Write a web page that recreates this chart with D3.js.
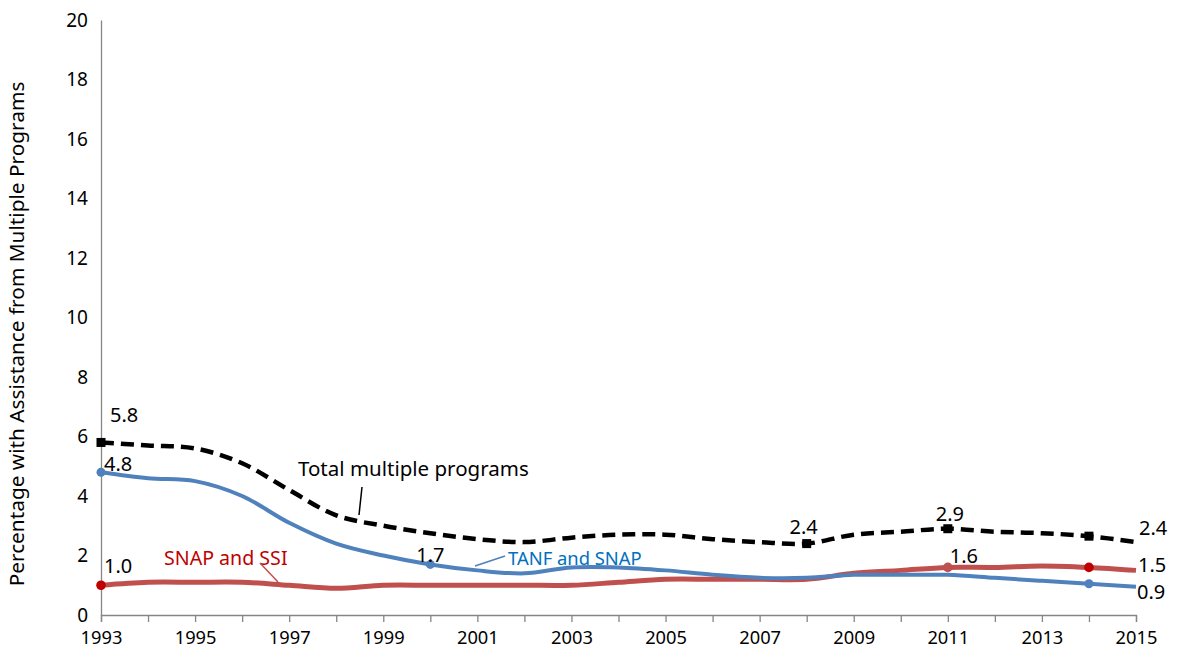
<!DOCTYPE html>
<html>
<head>
<meta charset="utf-8">
<script src="https://cdn.jsdelivr.net/npm/d3@7"></script>
<style>
  body { margin: 0; background: #fff; }
  svg { display: block; font-family: "Noto Sans", "Open Sans", sans-serif; }
</style>
</head>
<body>
<svg id="chart" width="1177" height="652"></svg>
<script>
const years = d3.range(1993, 2016);
const totalMultiple = [5.8,5.7,5.6,5.1,4.2,3.35,3.0,2.75,2.55,2.45,2.6,2.7,2.7,2.55,2.45,2.4,2.7,2.8,2.9,2.8,2.75,2.65,2.45];
const tanfSnap = [4.8,4.6,4.5,4.0,3.1,2.4,2.0,1.7,1.5,1.4,1.6,1.6,1.5,1.35,1.25,1.25,1.35,1.35,1.35,1.25,1.15,1.05,0.95];
const snapSsi = [1.0,1.1,1.1,1.1,1.0,0.9,1.0,1.0,1.0,1.0,1.0,1.1,1.2,1.2,1.2,1.2,1.4,1.5,1.6,1.6,1.65,1.6,1.5];
const yTicks = [0,2,4,6,8,10,12,14,16,18,20];
const xTickLabels = [1993,1995,1997,1999,2001,2003,2005,2007,2009,2011,2013,2015];
const yAxisTitle = "Percentage with Assistance from Multiple Programs";
const seriesNames = ["Total multiple programs", "TANF and SNAP", "SNAP and SSI"];
// labelled points: [year, text]
const totalLabels = [[1993,"5.8"],[2008,"2.4"],[2011,"2.9"],[2015,"2.4"]];
const tanfLabels = [[1993,"4.8"],[2000,"1.7"],[2015,"0.9"]];
const ssiLabels = [[1993,"1.0"],[2011,"1.6"],[2015,"1.5"]];
const totalMarkers = [1993,2008,2011,2014];
const tanfMarkers = [1993,2000,2014];
const ssiMarkers = [1993,2011,2014];

const svg = d3.select("#chart");
const x = d3.scaleLinear().domain([1993, 2015]).range([101, 1136]);
const y = d3.scaleLinear().domain([0, 20]).range([615, 20]);

// axes
const xAxis = d3.axisBottom(x).tickValues(years).tickSize(7).tickFormat(d => xTickLabels.includes(d) ? d : "");
const gx = svg.append("g").attr("transform", `translate(0,${y(0)})`).call(xAxis);
gx.select(".domain").attr("stroke", "#868686").attr("stroke-width", 1.3);
gx.selectAll(".tick line").attr("stroke", "#868686").attr("stroke-width", 1.3);
gx.selectAll(".tick text").attr("fill", "#000").attr("font-size", 18.3).attr("dy", "1.05em").attr("font-family", "Noto Sans");

const yAxis = d3.axisLeft(y).tickValues(yTicks).tickSize(0).tickPadding(13);
const gy = svg.append("g").attr("transform", `translate(${x(1993)},0)`).call(yAxis);
gy.select(".domain").attr("stroke", "#868686").attr("stroke-width", 1.3);
gy.selectAll(".tick text").attr("fill", "#000").attr("font-size", 19).attr("font-family", "Noto Sans");

svg.append("text")
  .attr("transform", `translate(24,334) rotate(-90)`)
  .attr("text-anchor", "middle")
  .attr("font-size", 20.8)
  .text(yAxisTitle);

const line = d3.line().x((d,i) => x(years[i])).y(d => y(d)).curve(d3.curveCatmullRom.alpha(0.5));

svg.append("path").datum(snapSsi).attr("d", line).attr("fill","none")
  .attr("stroke","#C0504D").attr("stroke-width",5);
svg.append("path").datum(tanfSnap).attr("d", line).attr("fill","none")
  .attr("stroke","#4F81BD").attr("stroke-width",4);
svg.append("path").datum(totalMultiple).attr("d", line).attr("fill","none")
  .attr("stroke","#000").attr("stroke-width",4.5).attr("stroke-dasharray","13,7");

const val = (arr, yr) => arr[years.indexOf(yr)];

// markers
svg.selectAll(".mt").data(totalMarkers).join("rect")
  .attr("x", d => x(d)-4.5).attr("y", d => y(val(totalMultiple,d))-4.5)
  .attr("width",9).attr("height",9).attr("fill","#000");
svg.selectAll(".mb").data(tanfMarkers).join("circle")
  .attr("cx", d => x(d)).attr("cy", d => y(val(tanfSnap,d))).attr("r",4.5).attr("fill","#4F81BD");
svg.selectAll(".mr").data(ssiMarkers).join("circle")
  .attr("cx", d => x(d)).attr("cy", d => y(val(snapSsi,d))).attr("r",4.8)
  .attr("fill", d => d === 2011 ? "#C0504D" : "#C00000");

// data labels
const lblFont = 20;
function addLabels(list, arr, offsets) {
  list.forEach(([yr, t], i) => {
    const o = offsets[i];
    svg.append("text").attr("x", x(yr) + o[0]).attr("y", y(val(arr, yr)) + o[1])
      .attr("text-anchor", o[2]).attr("font-size", lblFont).attr("fill", "#000").text(t);
  });
}
addLabels(totalLabels, totalMultiple, [[9,-20,"start"],[-3,-10,"middle"],[2,-8,"middle"],[3,-7,"start"]]);
addLabels(tanfLabels, tanfSnap, [[3,-1,"start"],[0,-2,"middle"],[1,12,"start"]]);
addLabels(ssiLabels, snapSsi, [[3,-12,"start"],[2,-4,"start"],[2,2,"start"]]);

// series annotations
svg.append("text").attr("x", 298).attr("y", 476).attr("font-size", 20.5).attr("fill","#000").text(seriesNames[0]);
svg.append("line").attr("x1",362).attr("y1",487).attr("x2",359).attr("y2",515).attr("stroke","#000").attr("stroke-width",1.5);

svg.append("text").attr("x", 508).attr("y", 565).attr("font-size", 18.4).attr("fill","#0070C0").text(seriesNames[1]);
svg.append("line").attr("x1",475).attr("y1",566).attr("x2",505).attr("y2",556).attr("stroke","#4F81BD").attr("stroke-width",1.5);

svg.append("text").attr("x", 164).attr("y", 565).attr("font-size", 19.6).attr("fill","#C00000").text(seriesNames[2]);
svg.append("line").attr("x1",260).attr("y1",563).attr("x2",278).attr("y2",582).attr("stroke","#C0504D").attr("stroke-width",1.5);
</script>
</body>
</html>
